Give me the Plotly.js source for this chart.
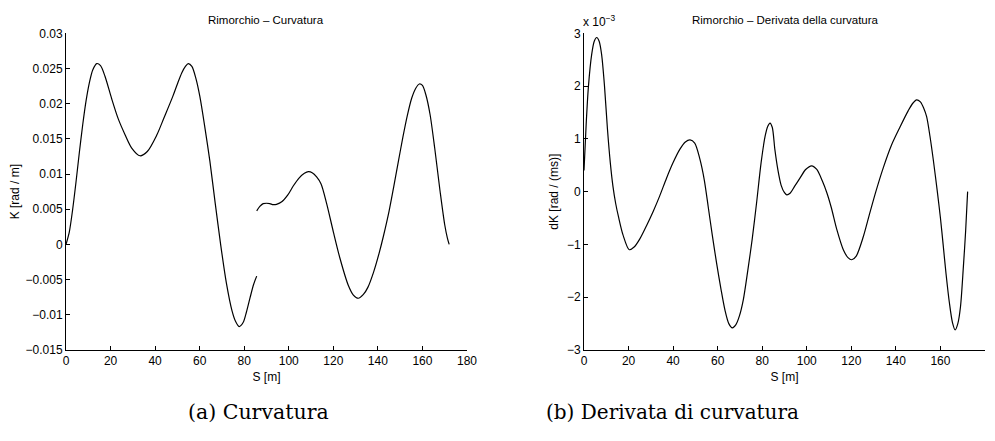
<!DOCTYPE html>
<html>
<head>
<meta charset="utf-8">
<script src="https://cdn.plot.ly/plotly-3.0.1.min.js"></script>
<style>
html,body{margin:0;padding:0;background:#fff;}
#chart{width:995px;height:441px;}
</style>
</head>
<body>
<div id="chart"></div>
<script>
// Curvature K [rad/m] vs S [m] — first segment
const S_K1 = [0,1.5,3,4.5,6,7.5,9,10.5,12,13.8,15.5,17.5,20.5,23.5,26.5,29.5,33.2,36.5,40.7,44,47.9,50,52,53.6,54.9,56.5,58.3,60.1,62.4,64.6,67,69.5,72,74.5,76.2,77.7,79.5,81,82.6,84.2,85.6];
const K1 = [0,0.0018,0.0050,0.0089,0.0131,0.0170,0.0204,0.0230,0.0248,0.0257,0.0254,0.0239,0.0207,0.0178,0.0156,0.0137,0.0126,0.0132,0.0155,0.0180,0.0210,0.0228,0.0244,0.0253,0.0257,0.0253,0.0236,0.0210,0.0165,0.0118,0.0058,-0.0002,-0.0055,-0.0094,-0.0110,-0.01167,-0.0111,-0.0096,-0.0076,-0.0057,-0.0045];
// Curvature — second segment
const S_K2 = [85.6,87,88.5,90,91.5,93,94.5,97,99.5,102,104.5,107,108.8,110.5,112.5,114.5,117,120,123,126.7,129,131.2,133.5,135.5,138,140.5,142.5,145,147,149.2,151.2,153.2,155.2,157,158.6,160,161.5,163.4,165.5,167.9,170,171.2,172];
const K2 = [0.00476,0.0054,0.0058,0.00585,0.0058,0.00565,0.0057,0.0061,0.0070,0.0083,0.0094,0.0101,0.01034,0.0102,0.0096,0.0086,0.0058,0.0018,-0.0020,-0.0058,-0.0072,-0.00765,-0.0071,-0.0061,-0.0040,-0.0013,0.0012,0.0047,0.0080,0.0118,0.0152,0.0183,0.0208,0.0222,0.0228,0.0226,0.0213,0.0185,0.0137,0.0076,0.0028,0.0009,0];

// Derivative of curvature dK [rad/(ms)], in units of 1e-3
const S_dK = [0,1,2,3.45,4.6,5.7,6.8,7.9,9.2,10.5,11.8,13,14.2,15.5,17.5,20.3,22.5,25,28,31,34,37,40,43,45.5,47.6,49.7,52,54,55.8,57.5,59.5,61.5,63.3,65,66.6,68.2,69.8,71.5,73.5,75.5,77.5,79.5,81.3,82.5,83.5,84.5,85.7,87,88.5,90,91,92.5,94.5,97,99.5,102.2,104.5,107,109,111,113.5,116.4,118.5,120.2,122.2,125.4,128,131,134.4,138,141.8,145.5,147.5,149.3,151,152.5,153.8,155.3,156.8,158.6,160,161.2,162.5,164,165.4,166.6,167.8,169,170.3,171.3,172.2];
const dK_e3 = [0.4,1.3,2.0,2.6,2.85,2.92,2.85,2.6,2.0,1.2,0.55,0.1,-0.22,-0.48,-0.82,-1.10,-1.05,-0.9,-0.65,-0.38,-0.08,0.25,0.55,0.8,0.94,0.98,0.92,0.62,0.22,-0.3,-0.8,-1.35,-1.85,-2.25,-2.5,-2.58,-2.52,-2.35,-2.05,-1.5,-0.9,-0.2,0.55,1.05,1.24,1.30,1.22,0.79,0.42,0.12,-0.02,-0.06,-0.03,0.1,0.26,0.42,0.49,0.42,0.2,-0.02,-0.3,-0.72,-1.10,-1.25,-1.29,-1.22,-0.85,-0.45,0.0,0.46,0.88,1.22,1.53,1.67,1.74,1.70,1.58,1.42,1.05,0.6,0.0,-0.5,-1.0,-1.55,-2.1,-2.48,-2.62,-2.5,-2.18,-1.42,-0.75,0];

const xTicks = [0,20,40,60,80,100,120,140,160,180];
const kTicks = [-0.015,-0.01,-0.005,0,0.005,0.01,0.015,0.02,0.025,0.03];
const kTickText = ['\u22120.015','\u22120.01','\u22120.005','0','0.005','0.01','0.015','0.02','0.025','0.03'];
const dkTicks = [-3,-2,-1,0,1,2,3];
const dkTickText = ['\u22123','\u22122','\u22121','0','1','2','3'];

const FONT = 'Liberation Sans, Arial, Helvetica, sans-serif';
const SERIF = 'DejaVu Serif, Liberation Serif, serif';
const lineStyle = {color:'#000', width:1.2, shape:'spline', smoothing:0.8};

const traces = [
  {x:S_K1, y:K1, mode:'lines', line:lineStyle, xaxis:'x', yaxis:'y', hoverinfo:'skip'},
  {x:S_K2, y:K2, mode:'lines', line:lineStyle, xaxis:'x', yaxis:'y', hoverinfo:'skip'},
  {x:S_dK, y:dK_e3, mode:'lines', line:lineStyle, xaxis:'x2', yaxis:'y2', hoverinfo:'skip'}
];

const axBase = {
  showgrid:false, zeroline:false, showline:true, linecolor:'#000', linewidth:1,
  ticks:'inside', ticklen:4, tickwidth:1, tickcolor:'#000',
  tickfont:{family:FONT, size:12, color:'#000'}, mirror:false, fixedrange:true
};

const yDom = [(441-350)/441, (441-33.3)/441];
const titleFont = {family:FONT, size:12, color:'#000'};

const layout = {
  width:995, height:441,
  margin:{l:0,r:0,t:0,b:0},
  paper_bgcolor:'#fff', plot_bgcolor:'#fff',
  showlegend:false,
  font:{family:FONT, size:12, color:'#000'},
  xaxis: Object.assign({}, axBase, {domain:[66/995, 467/995], range:[0,180], tickvals:xTicks, ticktext:xTicks.map(String), anchor:'y',
    title:{text:'S [m]', font:titleFont, standoff:5}}),
  yaxis: Object.assign({}, axBase, {domain:yDom, range:[-0.015,0.03], tickvals:kTicks, ticktext:kTickText, anchor:'x',
    title:{text:'K [rad / m]', font:titleFont, standoff:3}}),
  xaxis2: Object.assign({}, axBase, {domain:[584/995, 985/995], range:[0,180], tickvals:xTicks, ticktext:xTicks.map(String), anchor:'y2',
    title:{text:'S [m]', font:titleFont, standoff:5}}),
  yaxis2: Object.assign({}, axBase, {domain:yDom, range:[-3,3], tickvals:dkTicks, ticktext:dkTickText, anchor:'x2',
    title:{text:'dK [rad / (ms)]', font:titleFont, standoff:5}}),
  annotations:[
    {text:'Rimorchio \u2013 Curvatura', xref:'paper', yref:'paper', x:266/995, y:1-20/441, xanchor:'center', yanchor:'middle', showarrow:false, font:{family:FONT,size:11.5,color:'#000'}},
    {text:'Rimorchio \u2013 Derivata della curvatura', xref:'paper', yref:'paper', x:785/995, y:1-20/441, xanchor:'center', yanchor:'middle', showarrow:false, font:{family:FONT,size:11.5,color:'#000'}},
    {text:'x 10<sup>\u22123</sup>', xref:'paper', yref:'paper', x:581/995, y:1-31/441, xanchor:'left', yanchor:'bottom', showarrow:false, font:{family:FONT,size:12,color:'#000'}},
    {text:'(a) Curvatura', xref:'paper', yref:'paper', x:258/995, y:1-412/441, xanchor:'center', yanchor:'middle', showarrow:false, font:{family:SERIF,size:20.5,color:'#000'}},
    {text:'(b) Derivata di curvatura', xref:'paper', yref:'paper', x:672/995, y:1-412/441, xanchor:'center', yanchor:'middle', showarrow:false, font:{family:SERIF,size:20,color:'#000'}}
  ]
};

Plotly.newPlot('chart', traces, layout, {staticPlot:true, displayModeBar:false});
</script>
</body>
</html>
